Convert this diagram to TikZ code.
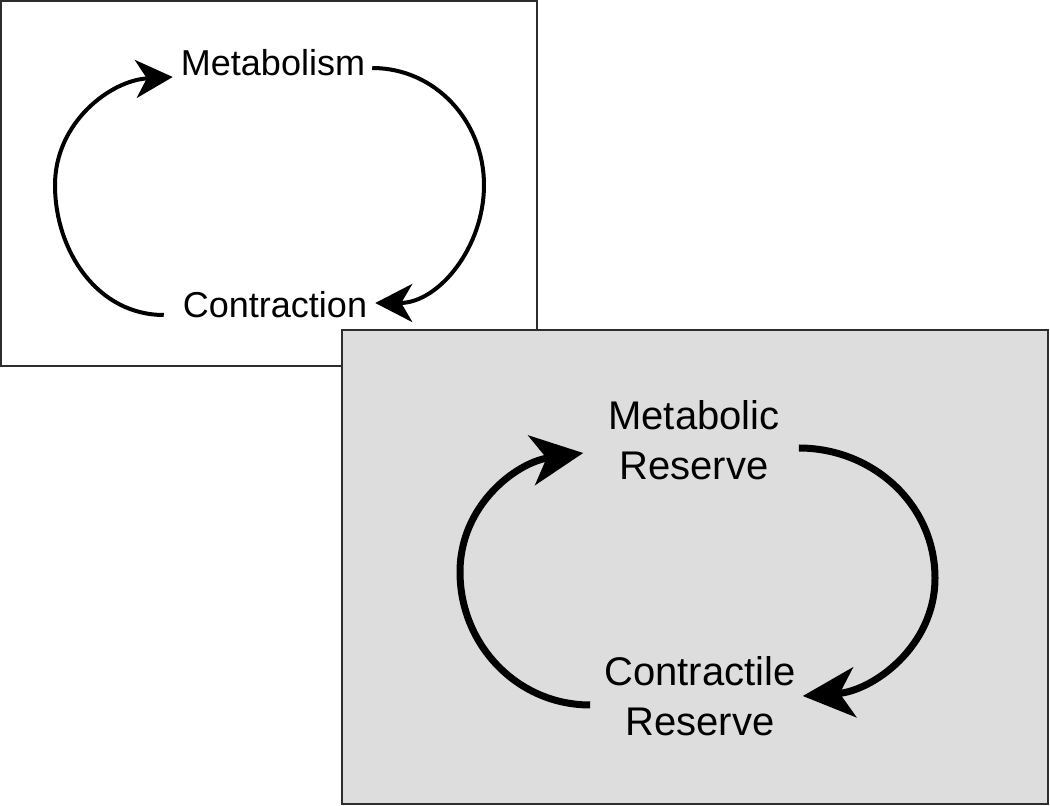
\documentclass[tikz,border=0pt]{standalone}
\usepackage{fontspec}
\setmainfont{Liberation Sans}
\usetikzlibrary{arrows.meta,
                positioning
            }
\definecolor{panelgray}{RGB}{221,221,221}
\definecolor{frameline}{RGB}{45,45,45}

\begin{document}
\begin{tikzpicture}[x=1pt, y=1pt,
        panel/.style={draw=frameline, line width=1.5pt},
        smalllabel/.style={inner sep=0pt, align=center, font=\fontsize{36}{43}\selectfont},
        biglabel/.style={inner sep=0pt, align=center, font=\fontsize{40}{50}\selectfont},
        thincycle/.style={line width=4pt, -{Stealth[length=37pt, width=38pt, inset=11pt]}},
        thickcycle/.style={line width=7pt, -{Stealth[length=52pt, width=50pt, inset=15pt]}}
    ]
            \useasboundingbox (0, 0) rectangle (1050, 806);
            % upper panel
            \draw[panel, fill=white] (1, 440) rectangle (537, 805);
            \node[smalllabel] (metab) at (273, 743) {Metabolism};
            \node[smalllabel] (contr) at (275, 501) {Contraction};
            \coordinate (rightA) at (484, 621);
            \coordinate (leftA) at (55, 621);
            \draw[thincycle] ([xshift=7pt, yshift=-5pt]metab.east) to[out=0, in=90] (rightA)
                to[out=270, in=0] ([xshift=8pt, yshift=2pt]contr.east);
            \draw[thincycle] ([xshift=-19pt, yshift=-10pt]contr.west) to[out=180, in=270] (leftA)
                to[out=90, in=183] ([xshift=-8pt, yshift=-14pt]metab.west);
            % lower panel
            \draw[panel, fill=panelgray] (342, 2) rectangle (1048, 476);
            \node[biglabel] (mres) at (694, 366) {Metabolic\\Reserve};
            \node[biglabel] (cres) at (700, 110) {Contractile\\Reserve};
            \coordinate (rightB) at (935, 228);
            \coordinate (leftB) at (460, 234);
            \draw[thickcycle] ([xshift=19pt, yshift=-8pt]mres.east) to[out=0, in=90] (rightB)
                to[out=270, in=4] ([xshift=7pt]cres.east);
            \draw[thickcycle] ([xshift=-14pt, yshift=-9pt]cres.west) to[out=180, in=270] (leftB)
                to[out=90, in=188] ([xshift=-25pt, yshift=-13pt]mres.west);
        \end{tikzpicture}
\end{document}
